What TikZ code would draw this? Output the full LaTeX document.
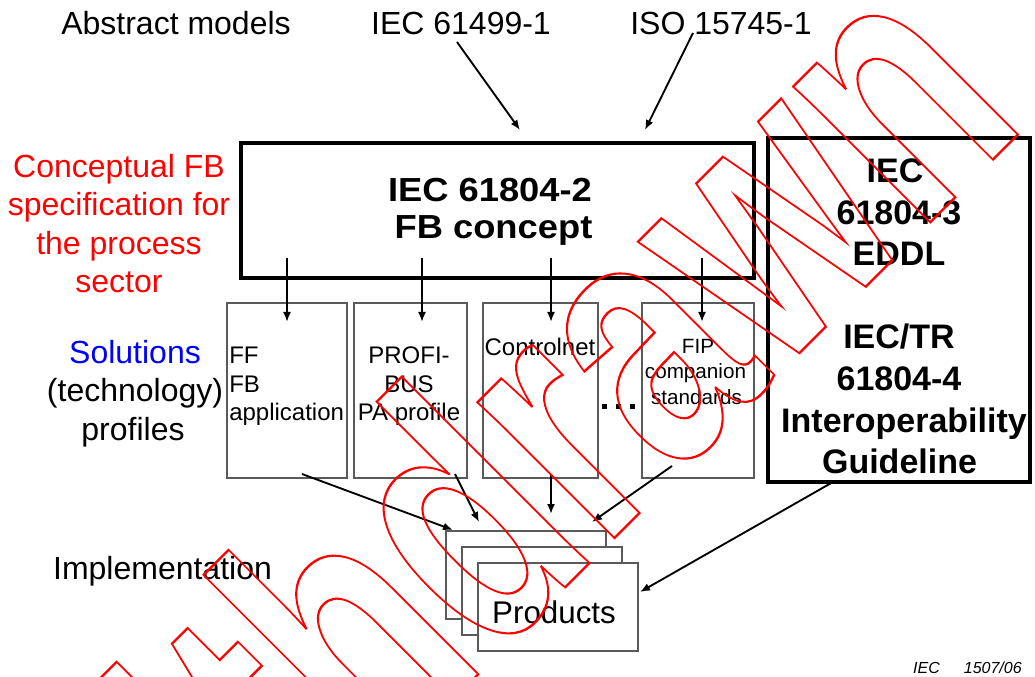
\documentclass[tikz,border=0pt]{standalone}
\usepackage{fontspec}
\setmainfont{Liberation Sans}
\usetikzlibrary{arrows.meta,fit}
\definecolor{boxgray}{RGB}{90,90,90}
\definecolor{wmred}{RGB}{255,0,0}
\definecolor{solblue}{RGB}{0,0,255}
\newcommand\fsz[1]{\fontsize{#1}{#1}\selectfont}
\begin{document}
\begin{tikzpicture}[x=0.75pt,y=-0.75pt,
  lbl/.style={inner sep=0pt, anchor=base, font=\fsz{24pt}},
  boxlbl/.style={inner sep=0pt, anchor=base, font=\fsz{18pt}},
  fiplbl/.style={inner sep=0pt, anchor=base, font=\fsz{15.5pt}},
  mainlbl/.style={inner sep=0pt, anchor=base, font=\fsz{25pt}\bfseries, xscale=1.09},
  sidelbl/.style={inner sep=0pt, anchor=base, font=\fsz{25.5pt}\bfseries},
  thickbox/.style={draw=black, line width=3pt, inner sep=0pt},
  thinbox/.style={draw=boxgray, line width=1pt, inner sep=0pt},
  prodbox/.style={draw=boxgray, line width=1pt, fill=white, inner sep=0pt},
  dotsq/.style={fill=black, inner sep=0pt, minimum size=3.75pt},
  arr/.style={-{Latex[length=7.5pt,width=6pt]}, line width=1.4pt},
  ]
\useasboundingbox (0,0) rectangle (1035,677);

% top labels
\node[lbl] (abs) at (176,35) {Abstract models};
\node[lbl] (iecA) at (461,35) {IEC 61499-1};
\node[lbl] (iso) at (721,35) {ISO 15745-1};

% red side label
\node[lbl, text=wmred] (c1) at (119,178) {Conceptual FB};
\node[lbl, text=wmred] (c2) at (119,216) {specification for};
\node[lbl, text=wmred] (c3) at (119,254.5) {the process};
\node[lbl, text=wmred] (c4) at (119,293) {sector};

% solutions
\node[lbl, text=solblue] (s1) at (135,363) {Solutions};
\node[lbl] (s2) at (135,401.5) {(technology)};
\node[lbl] (s3) at (133,440) {profiles};

\node[lbl] (impl) at (162.5,579) {Implementation};

% main box
\coordinate (m1) at (241,143); \coordinate (m2) at (754,278);
\node[thickbox, fit=(m1)(m2)] (mainbox) {};
\node[mainlbl] (mt1) at (490,202) {IEC 61804-2};
\node[mainlbl] (mt2) at (493.5,238.5) {FB concept};

% right box
\coordinate (r1) at (768,138); \coordinate (r2) at (1030,482);
\node[thickbox, fit=(r1)(r2)] (rightbox) {};
\node[sidelbl] (rt1) at (895,183) {IEC};
\node[sidelbl] (rt2) at (899,224.5) {61804-3};
\node[sidelbl] (rt3) at (899,266) {EDDL};
\node[sidelbl] (rt4) at (899,349) {IEC/TR};
\node[sidelbl] (rt5) at (899,390.5) {61804-4};
\node[sidelbl] (rt6) at (904,432) {Interoperability};
\node[sidelbl] (rt7) at (899.5,473.5) {Guideline};

% solution boxes
\coordinate (b1a) at (227,303); \coordinate (b1b) at (347,478);
\coordinate (b2a) at (354,303); \coordinate (b2b) at (467,478);
\coordinate (b3a) at (483,303); \coordinate (b3b) at (598,478);
\coordinate (b4a) at (642,303); \coordinate (b4b) at (754,478);
\node[thinbox, fit=(b1a)(b1b)] (box1) {};
\node[thinbox, fit=(b2a)(b2b)] (box2) {};
\node[thinbox, fit=(b3a)(b3b)] (box3) {};
\node[thinbox, fit=(b4a)(b4b)] (box4) {};

\node[boxlbl, anchor=base west] (f1) at (229,363) {FF};
\node[boxlbl, anchor=base west] (f2) at (229,392) {FB};
\node[boxlbl, anchor=base west] (f3) at (229,420) {application};
\node[boxlbl] (p1) at (409,363) {PROFI-};
\node[boxlbl] (p2) at (409,392) {BUS};
\node[boxlbl] (p3) at (409,420) {PA profile};
\node[boxlbl] (cn) at (540,355) {Controlnet};
\node[fiplbl] (fp1) at (698,353) {FIP};
\node[fiplbl] (fp2) at (695.5,378) {companion};
\node[fiplbl] (fp3) at (696.5,404) {standards};

\node[dotsq] (dot1) at (604.5,406.5) {};
\node[dotsq] (dot2) at (618,406.5) {};
\node[dotsq] (dot3) at (632.5,406.5) {};

% products
\coordinate (pa1) at (446,531); \coordinate (pa2) at (606,619);
\coordinate (pb1) at (462,547); \coordinate (pb2) at (622,635);
\coordinate (pc1) at (478,563); \coordinate (pc2) at (638,651);
\node[prodbox, fit=(pa1)(pa2)] (prodA) {};
\node[prodbox, fit=(pb1)(pb2)] (prodB) {};
\node[prodbox, fit=(pc1)(pc2)] (prodC) {};
\node[lbl, font=\fsz{23.5pt}] (prod) at (554,623) {Products};

% arrow end points
\coordinate (t1s) at (457,42);  \coordinate (t1e) at (520,130);
\coordinate (t2s) at (693,33);  \coordinate (t2e) at (645,130);
\coordinate (d1s) at (287,258); \coordinate (d1e) at (287,322);
\coordinate (d2s) at (422,258); \coordinate (d2e) at (422,322);
\coordinate (d3s) at (551,258); \coordinate (d3e) at (551,322);
\coordinate (d4s) at (702,258); \coordinate (d4e) at (702,322);
\coordinate (q1s) at (302,474); \coordinate (q1e) at (453,530);
\coordinate (q2s) at (455,474); \coordinate (q2e) at (479,522);
\coordinate (q3s) at (551,474); \coordinate (q3e) at (551,514);
\coordinate (q4s) at (672,466); \coordinate (q4e) at (592,522);
\coordinate (q5s) at (833,482); \coordinate (q5e) at (640,592);

\draw[arr] (t1s) -- (t1e);
\draw[arr] (t2s) -- (t2e);
\draw[arr] (d1s) -- (d1e);
\draw[arr] (d2s) -- (d2e);
\draw[arr] (d3s) -- (d3e);
\draw[arr] (d4s) -- (d4e);
\draw[arr] (q1s) -- (q1e);
\draw[arr] (q2s) -- (q2e);
\draw[arr] (q3s) -- (q3e);
\draw[arr] (q4s) -- (q4e);
\draw[arr] (q5s) -- (q5e);

% figure number
\node[inner sep=0pt, anchor=base east, font=\fsz{12pt}\itshape] (fig) at (1022,673) {IEC\hspace{18pt}1507/06};

% watermark (outlined, condensed text)
\node[rotate=45, xscale=0.71, inner sep=0pt, text=wmred] (wm) at (469.4,498.6)
  {\fsz{273.75pt}\bfseries\special{pdf:literal direct 1 Tr 1.8 w}Withdrawn\special{pdf:literal direct 0 Tr}};
\end{tikzpicture}
\end{document}
